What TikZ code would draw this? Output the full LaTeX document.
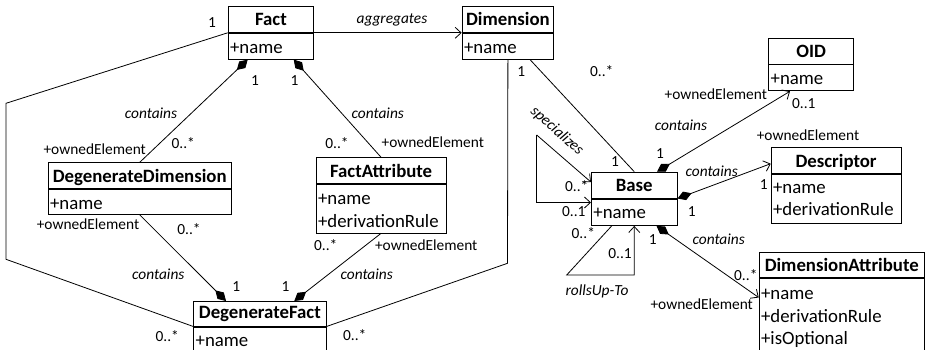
\documentclass[tikz,border=0pt]{standalone}
\usepackage{fontspec}
\setmainfont{Carlito}
\usetikzlibrary{arrows.meta}
% attribute compartment: top-aligned list of lines
\newcommand\attrrows[2]{\parbox[t]{#1}{\raggedright #2}}
\begin{document}
\begin{tikzpicture}[x=1pt,y=-1pt,line width=0.8pt,
  clsname/.style={draw, anchor=north west, inner xsep=0pt, inner ysep=0pt,
    text height=19.5pt, text depth=6.5pt, font=\fontsize{18.8}{22.5}\selectfont\bfseries},
  clsattr/.style={draw, anchor=north west, inner xsep=2pt, inner ysep=0pt,
    text height=20pt, font=\fontsize{18.8}{22.5}\selectfont},
  lbl/.style={anchor=base, inner sep=0pt, font=\fontsize{15.4}{18}\selectfont},
  rel/.style={anchor=base, inner sep=0pt, font=\fontsize{15.4}{18}\selectfont\itshape},
  comp/.style={{Diamond[length=15pt,width=9pt]}-},
  nav/.style={-{Straight Barb[length=6pt,width=11pt]}},
  compnav/.style={{Diamond[length=15pt,width=9pt]}-{Straight Barb[length=6pt,width=11pt]}},
]
\useasboundingbox (0,0) rectangle (926,350);
\clip (0,0) rectangle (926,350);

% ---- classes ----
\node[clsname, minimum width=85.6pt] (factT) at (227.7,6) {Fact};
\node[clsattr, text depth=6pt] (factA) at (factT.south west) {\attrrows{81.6pt}{+name}};

\node[clsname, minimum width=91.6pt] (dimT) at (461.7,6) {Dimension};
\node[clsattr, text depth=6pt] (dimA) at (dimT.south west) {\attrrows{87.6pt}{+name}};

\node[clsname, minimum width=85pt] (oidT) at (768.3,37.7) {OID};
\node[clsattr, text depth=6pt] (oidA) at (oidT.south west) {\attrrows{81pt}{+name}};

\node[clsname, minimum width=130pt] (descT) at (770.7,147.3) {Descriptor};
\node[clsattr, text height=18.5pt, text depth=29.9pt] (descA) at (descT.south west)
  {\attrrows{126pt}{+name\\+derivationRule}};

\node[clsname, minimum width=85.7pt] (baseT) at (591,171.7) {Base};
\node[clsattr, text depth=6.6pt] (baseA) at (baseT.south west) {\attrrows{81.7pt}{+name}};

\node[clsname, minimum width=165.3pt, text height=19.1pt] (dimattrT) at (758.7,251.7) {DimensionAttribute};
\node[clsattr, text height=21pt, text depth=50.7pt] (dimattrA) at (dimattrT.south west)
  {\attrrows{161.3pt}{+name\\+derivationRule\\+isOptional}};

\node[clsname, minimum width=183.3pt] (ddT) at (47.7,162.3) {DegenerateDimension};
\node[clsattr, text depth=5pt] (ddA) at (ddT.south west) {\attrrows{179.3pt}{+name}};

\node[clsname, minimum width=130pt] (faT) at (315.7,157.3) {FactAttribute};
\node[clsattr, text depth=28.4pt] (faA) at (faT.south west) {\attrrows{126pt}{+name\\+derivationRule}};

\node[clsname, minimum width=132.4pt, text height=17.3pt, text depth=7.4pt] (degT) at (193.3,301) {DegenerateFact};
\node[clsattr, text depth=12pt] (degA) at (degT.south west) {\attrrows{128.4pt}{+name}};

% ---- bend points ----
\coordinate (fdA) at (6,103.3);
\coordinate (fdB) at (6,259.3);
\coordinate (ddC) at (507.5,263.3);
\coordinate (sp) at (536.7,135);
\coordinate (ru) at (566.7,275);

% ---- connectors ----
\draw[nav] (factA.north east) -- (dimA.north west);
\draw (factA.north west) -- (fdA) -- (fdB) -- (degA.north west);
\draw[comp] ([xshift=20pt]factA.south west) -- (ddT.north);
\draw[comp] ([xshift=66pt]factA.south west) -- (faT.north);
\draw (dimA.south) -- (ddC) -- (degA.north east);
\draw ([xshift=68.3pt]dimA.south west) -- (baseT.north);
\draw[comp] ([xshift=32.7pt]degT.north west) -- (ddA.south);
\draw[comp] ([xshift=101pt]degT.north west) -- (faA.south);
\draw[compnav] ([xshift=66pt]baseT.north west) -- ([xshift=21.7pt]oidA.south west);
\draw[compnav] (baseA.north east) -- ([yshift=-3pt]descT.west);
\draw[compnav] ([xshift=65.5pt]baseA.south west) -- ([yshift=-19.4pt]dimattrA.north west);
\draw[nav] (sp) -- ([yshift=3pt]baseT.west);
\draw[nav] (sp) |- ([yshift=-4pt]baseA.north west);
\draw[nav] ([xshift=20.7pt]baseA.south west) -- (ru) -| (baseA.south);

% ---- association names ----
\node[rel] (nAgg) at (392,24) {aggregates};
\node[rel] (nC1) at (151,119) {contains};
\node[rel] (nC2) at (377.8,118.3) {contains};
\node[rel] (nC3) at (681,130.7) {contains};
\node[rel] (nC4) at (711.7,176) {contains};
\node[rel] (nC5) at (718.7,244) {contains};
\node[rel] (nC6) at (158.3,279.3) {contains};
\node[rel] (nC7) at (366.7,279.3) {contains};
\node[rel] (nRoll) at (597,295) {rollsUp-To};
\node[rel, anchor=center, rotate=-42] (nSpec) at (557,131) {specializes};

% ---- role names and multiplicities ----
\node[lbl] (m1) at (212,27.3) {1};
\node[lbl] (m2) at (255,86) {1};
\node[lbl] (m3) at (294.5,86) {1};
\node[lbl] (r1) at (94.7,154) {+ownedElement};
\node[lbl] (m4) at (183.3,149) {0..*};
\node[lbl] (m5) at (337,149) {0..*};
\node[lbl] (r2) at (432.8,147.7) {+ownedElement};
\node[lbl] (m6) at (521.2,76.7) {1};
\node[lbl] (m7) at (601.7,76.7) {0..*};
\node[lbl] (m8) at (615,166.7) {1};
\node[lbl] (r3) at (715.8,100) {+ownedElement};
\node[lbl] (m9) at (803.8,109) {0..1};
\node[lbl] (m10) at (660,158.3) {1};
\node[lbl] (r4) at (808,140) {+ownedElement};
\node[lbl] (m11) at (763.7,189.3) {1};
\node[lbl] (m12) at (691.7,216) {1};
\node[lbl] (m13) at (652.7,244) {1};
\node[lbl] (m14) at (745.8,280) {0..*};
\node[lbl] (r5) at (701.7,309.3) {+ownedElement};
\node[lbl] (m15) at (576.7,191.7) {0..*};
\node[lbl] (m16) at (573.8,216.7) {0..1};
\node[lbl] (m17) at (583.3,238.3) {0..*};
\node[lbl] (m18) at (620,258.3) {0..1};
\node[lbl] (r6) at (88,229.3) {+ownedElement};
\node[lbl] (m19) at (189,234) {0..*};
\node[lbl] (m20) at (236.3,291.7) {1};
\node[lbl] (m21) at (285.5,291.7) {1};
\node[lbl] (m22) at (167.2,341) {0..*};
\node[lbl] (m23) at (325.8,250) {0..*};
\node[lbl] (r7) at (426.2,250) {+ownedElement};
\node[lbl] (m24) at (354.7,340) {0..*};
\end{tikzpicture}
\end{document}
